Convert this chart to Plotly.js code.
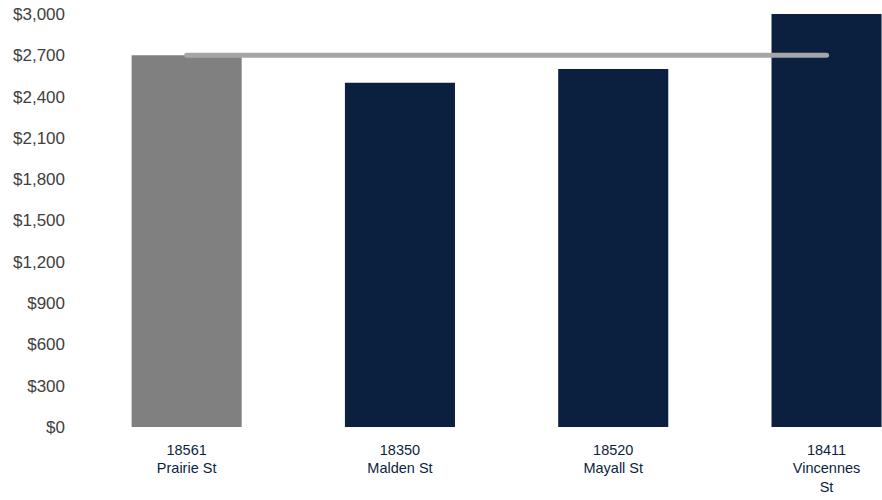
<!DOCTYPE html>
<html>
<head>
<meta charset="utf-8">
<script src="https://cdn.plot.ly/plotly-3.0.1.min.js"></script>
<style>
html,body{margin:0;padding:0;overflow:hidden;background:#fff;}
#chart{width:882px;height:500px;}
</style>
</head>
<body>
<div id="chart"></div>
<script>
var categories = ["18561<br>Prairie St", "18350<br>Malden St", "18520<br>Mayall St", "18411<br>Vincennes<br>St"];
var rents = [2700, 2500, 2600, 3000];
var barColors = ["#808080", "#0B1F3E", "#0B1F3E", "#0B1F3E"];
var subjectRent = [2700, 2700, 2700, 2700];
var yTicks = [0, 300, 600, 900, 1200, 1500, 1800, 2100, 2400, 2700, 3000];

var traces = [
  {
    type: "bar",
    x: categories,
    y: rents,
    marker: {color: barColors},
    hoverinfo: "none",
    showlegend: false
  },
  {
    type: "scatter",
    mode: "lines",
    x: categories,
    y: subjectRent,
    line: {color: "#A6A6A6", width: 5},
    hoverinfo: "none",
    showlegend: false
  }
];

var layout = {
  width: 882,
  height: 500,
  margin: {l: 80, r: 0, t: 14, b: 73},
  paper_bgcolor: "#ffffff",
  plot_bgcolor: "#ffffff",
  bargap: 0.484,
  showlegend: false,
  font: {family: "Liberation Sans, Arial, sans-serif", size: 15, color: "#404040"},
  xaxis: {
    type: "category",
    range: [-0.5, 3.26],
    showgrid: false,
    zeroline: false,
    showline: false,
    ticks: "",
    ticklabelstandoff: 12,
    tickfont: {family: "Liberation Sans, Arial, sans-serif", size: 14.5, color: "#0B1F3E"},
    fixedrange: true
  },
  yaxis: {
    range: [0, 3000],
    tickmode: "array",
    tickvals: yTicks,
    ticktext: yTicks.map(function(v){ return "$" + v.toLocaleString("en-US"); }),
    showgrid: false,
    zeroline: false,
    showline: false,
    ticks: "",
    ticklabelstandoff: 14,
    tickfont: {family: "Liberation Sans, Arial, sans-serif", size: 17, color: "#404040"},
    fixedrange: true
  }
};

Plotly.newPlot("chart", traces, layout, {displayModeBar: false, staticPlot: true}).then(function(){
  document.querySelectorAll(".scatterlayer path.js-line").forEach(function(p){
    p.style.strokeLinecap = "round";
  });
});
</script>
</body>
</html>
